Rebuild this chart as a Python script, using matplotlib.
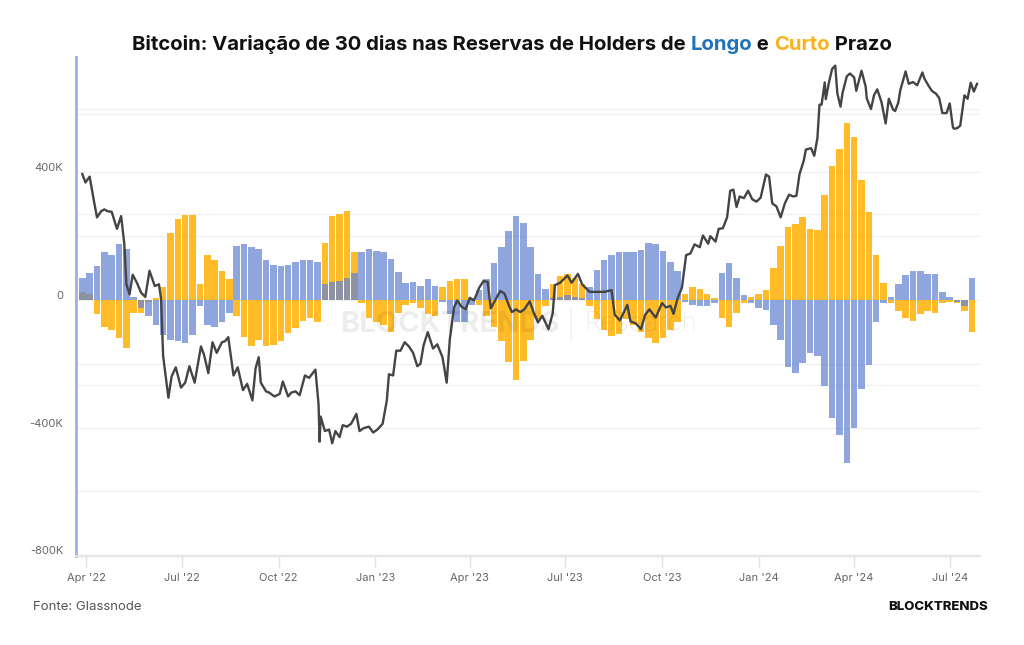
import matplotlib
matplotlib.use("Agg")
import matplotlib.pyplot as plt
import matplotlib.dates as mdates
import matplotlib.transforms as mtransforms
import numpy as np
import pandas as pd

plt.rcParams["font.family"] = ["Inter", "DejaVu Sans"]

# weekly readings (thousands of BTC), 30-day change in holder supply
weeks = pd.date_range("2022-03-28", periods=122, freq="7D")
lth_k = [
    70, 85, 105, 150, 140, 175, 160, 10, -25, -50,
    -80, -110, -125, -130, -135, -110, -20, -80, -85, -70,
    -40, 170, 175, 165, 160, 125, 110, 105, 110, 120,
    125, 125, 120, 50, 55, 60, 70, 85, 150, 160,
    155, 150, 130, 88, 54, 55, 45, 65, 45, -5,
    -45, -70, -70, -15, 30, 65, 115, 165, 215, 262,
    240, 165, 80, 35, 5, 10, 15, 10, 5, 40,
    95, 125, 140, 150, 149, 150, 158, 178, 175, 155,
    120, 92, -5, -15, -20, -18, -10, 85, 115, 70,
    15, -10, -25, -30, -80, -125, -210, -230, -197, -165,
    -176, -270, -370, -425, -510, -400, -280, -205, -70, -10,
    10, 50, 78, 90, 92, 82, 82, 25, 10, -5,
    -20, 70,
]
sth_k = [
    25, 20, -45, -85, -95, -120, -150, -40, -40, -5,
    5, 40, 210, 255, 265, 265, 50, 140, 125, 90,
    65, -50, -115, -145, -125, -145, -140, -130, -105, -88,
    -65, -58, -70, 180, 262, 270, 278, 150, -10, -55,
    -68, -80, -100, -40, -15, -10, -25, -45, -50, 40,
    60, 65, 65, 5, -15, -50, -85, -130, -195, -250,
    -190, -125, -60, -20, 50, 75, 80, 70, 50, -20,
    -60, -95, -112, -108, -60, -80, -100, -120, -134, -120,
    -95, -70, 20, 40, 35, 20, 5, -55, -85, -40,
    -10, 10, 20, 30, 100, 170, 230, 237, 260, 222,
    220, 330, 420, 475, 556, 510, 375, 275, 140, 54,
    -10, -35, -55, -65, -45, -35, -40, -10, -5, -10,
    -35, -100,
]

# BTC price (USD thousands)
price_dates = pd.to_datetime([
    "2022-03-28", "2022-03-31", "2022-04-04", "2022-04-08", "2022-04-11", "2022-04-15",
    "2022-04-18", "2022-04-21", "2022-04-25", "2022-04-30", "2022-05-04", "2022-05-07",
    "2022-05-09", "2022-05-12", "2022-05-15", "2022-05-19", "2022-05-23", "2022-05-27",
    "2022-05-31", "2022-06-05", "2022-06-09", "2022-06-11", "2022-06-13", "2022-06-18",
    "2022-06-21", "2022-06-25", "2022-06-30", "2022-07-04", "2022-07-08", "2022-07-13",
    "2022-07-19", "2022-07-22", "2022-07-26", "2022-07-30", "2022-08-03", "2022-08-08",
    "2022-08-11", "2022-08-14", "2022-08-19", "2022-08-23", "2022-08-28", "2022-09-01",
    "2022-09-06", "2022-09-09", "2022-09-12", "2022-09-14", "2022-09-19", "2022-09-22",
    "2022-09-27", "2022-10-02", "2022-10-05", "2022-10-10", "2022-10-13", "2022-10-17",
    "2022-10-21", "2022-10-26", "2022-10-30", "2022-11-05", "2022-11-08", "2022-11-09",
    "2022-11-10", "2022-11-14", "2022-11-18", "2022-11-21", "2022-11-24", "2022-11-28",
    "2022-12-01", "2022-12-05", "2022-12-09", "2022-12-14", "2022-12-17", "2022-12-21",
    "2022-12-26", "2022-12-30", "2023-01-03", "2023-01-08", "2023-01-12", "2023-01-14",
    "2023-01-18", "2023-01-21", "2023-01-25", "2023-01-29", "2023-02-02", "2023-02-06",
    "2023-02-10", "2023-02-13", "2023-02-16", "2023-02-20", "2023-02-25", "2023-03-01",
    "2023-03-06", "2023-03-10", "2023-03-13", "2023-03-17", "2023-03-20", "2023-03-24",
    "2023-03-28", "2023-04-01", "2023-04-05", "2023-04-10", "2023-04-14", "2023-04-18",
    "2023-04-21", "2023-04-26", "2023-04-30", "2023-05-04", "2023-05-08", "2023-05-11",
    "2023-05-15", "2023-05-19", "2023-05-23", "2023-05-28", "2023-06-01", "2023-06-05",
    "2023-06-09", "2023-06-15", "2023-06-19", "2023-06-21", "2023-06-26", "2023-07-03",
    "2023-07-07", "2023-07-13", "2023-07-17", "2023-07-24", "2023-07-31", "2023-08-07",
    "2023-08-14", "2023-08-17", "2023-08-22", "2023-08-29", "2023-09-01", "2023-09-06",
    "2023-09-11", "2023-09-15", "2023-09-19", "2023-09-25", "2023-10-01", "2023-10-05",
    "2023-10-09", "2023-10-12", "2023-10-16", "2023-10-20", "2023-10-24", "2023-10-28",
    "2023-11-01", "2023-11-06", "2023-11-09", "2023-11-14", "2023-11-16", "2023-11-21",
    "2023-11-24", "2023-11-28", "2023-12-02", "2023-12-05", "2023-12-08", "2023-12-11",
    "2023-12-14", "2023-12-18", "2023-12-22", "2023-12-26", "2023-12-30", "2024-01-03",
    "2024-01-08", "2024-01-11", "2024-01-14", "2024-01-18", "2024-01-22", "2024-01-26",
    "2024-01-30", "2024-02-03", "2024-02-06", "2024-02-09", "2024-02-13", "2024-02-15",
    "2024-02-20", "2024-02-23", "2024-02-26", "2024-02-28", "2024-03-01", "2024-03-04",
    "2024-03-05", "2024-03-08", "2024-03-11", "2024-03-14", "2024-03-16", "2024-03-19",
    "2024-03-21", "2024-03-25", "2024-03-28", "2024-04-01", "2024-04-03", "2024-04-08",
    "2024-04-12", "2024-04-13", "2024-04-17", "2024-04-20", "2024-04-23", "2024-04-27",
    "2024-05-01", "2024-05-04", "2024-05-08", "2024-05-10", "2024-05-13", "2024-05-15",
    "2024-05-20", "2024-05-23", "2024-05-27", "2024-05-31", "2024-06-05", "2024-06-07",
    "2024-06-11", "2024-06-14", "2024-06-18", "2024-06-21", "2024-06-24", "2024-06-28",
    "2024-07-01", "2024-07-04", "2024-07-05", "2024-07-08", "2024-07-11", "2024-07-15",
    "2024-07-18", "2024-07-21", "2024-07-24", "2024-07-27",
])
price_k = [
    47.1, 45.5, 46.6, 42.3, 39.5, 40.5,
    40.8, 40.5, 40.4, 37.7, 39.7, 35.5,
    30.1, 28.9, 31.3, 30.3, 29.1, 28.6,
    31.8, 29.9, 30.1, 28.4, 22.5, 19.0,
    20.7, 21.5, 19.8, 20.2, 21.6, 20.2,
    23.4, 22.6, 21.0, 23.8, 22.8, 23.8,
    23.9, 24.3, 20.8, 21.5, 19.6, 20.1,
    18.8, 21.4, 22.4, 20.2, 19.5, 19.4,
    19.1, 19.3, 20.3, 19.1, 19.4, 19.5,
    19.2, 20.8, 20.6, 21.3, 18.5, 15.9,
    17.6, 16.6, 16.7, 15.8, 16.6, 16.2,
    17.0, 16.9, 17.1, 17.8, 16.6, 16.8,
    16.9, 16.5, 16.7, 17.1, 18.8, 20.9,
    20.8, 23.0, 23.0, 23.8, 23.4, 22.8,
    21.6, 21.8, 23.5, 24.8, 23.2, 23.6,
    22.4, 20.2, 24.1, 27.4, 28.2, 27.5,
    27.2, 28.5, 28.2, 29.7, 30.5, 30.4,
    27.3, 28.4, 29.3, 29.0, 27.7, 26.9,
    27.2, 26.9, 27.2, 28.1, 26.8, 25.8,
    26.5, 25.1, 26.8, 30.0, 30.3, 31.2,
    30.3, 31.4, 30.1, 29.2, 29.2, 29.2,
    29.4, 26.6, 26.0, 27.7, 25.9, 25.7,
    25.1, 26.6, 27.2, 26.3, 27.9, 27.4,
    27.6, 26.7, 28.5, 29.7, 33.9, 34.1,
    35.4, 35.0, 36.7, 35.5, 36.6, 35.8,
    37.7, 37.8, 39.5, 44.0, 44.2, 41.2,
    43.0, 42.7, 44.0, 42.5, 42.1, 42.8,
    47.0, 46.6, 41.8, 41.3, 39.5, 41.8,
    43.3, 43.0, 43.1, 47.1, 49.7, 52.0,
    52.3, 50.7, 54.5, 62.4, 62.4, 68.3,
    63.8, 68.3, 72.1, 73.1, 65.3, 61.9,
    65.5, 70.0, 70.8, 69.7, 66.0, 71.6,
    67.1, 64.0, 61.3, 64.9, 66.4, 63.1,
    57.8, 63.9, 61.2, 60.8, 62.9, 66.2,
    71.4, 67.9, 68.4, 67.5, 71.1, 69.3,
    67.3, 66.0, 65.2, 64.1, 60.3, 60.3,
    62.7, 57.0, 56.6, 56.7, 57.3, 64.8,
    63.9, 68.2, 65.8, 67.9,
]

blue = "#6283d2"
orange = "#ffb81c"

fig = plt.figure(figsize=(10.24, 6.45), dpi=100)
ax = fig.add_axes([0.0742, 0.138, 0.883, 0.7736])

lth = np.array(lth_k) * 1000
sth = np.array(sth_k) * 1000
ax.bar(weeks, sth, width=6.2, color=orange, alpha=0.95, linewidth=0, zorder=2)
ax.bar(weeks, lth, width=6.2, color=blue, alpha=0.72, linewidth=0, zorder=3)

ax.set_yticks(np.arange(-800000, 800001, 200000))
ax.set_ylim(-803000, 762000)
ax.yaxis.set_major_formatter(
    lambda v, p: ("0" if v == 0 else f"{int(v / 1000)}K") if v % 400000 == 0 else ""
)
ax.grid(axis="y", color="#f0f0f0", linewidth=1.0, zorder=0)
ax.set_axisbelow(True)
ax.tick_params(axis="y", length=0, pad=9, labelsize=8, labelcolor="#666666")

ax.set_xlim(pd.Timestamp("2022-03-22"), pd.Timestamp("2024-07-30"))
ax.xaxis.set_major_locator(mdates.MonthLocator(bymonth=[1, 4, 7, 10]))
ax.xaxis.set_major_formatter(mdates.DateFormatter("%b '%y"))
ax.tick_params(axis="x", length=8, width=1, color="#e0e0e0", pad=4,
               labelsize=8, labelcolor="#666666")

for s in ["top", "right"]:
    ax.spines[s].set_visible(False)
ax.spines["left"].set_color("#9cb0e8")
ax.spines["left"].set_linewidth(2)
ax.spines["bottom"].set_color("#e6e6e6")
ax.spines["bottom"].set_linewidth(1.6)

# nudge y labels up a little, as in the original
shift = mtransforms.ScaledTranslation(0, 5 / 100, fig.dpi_scale_trans)
for lab in ax.get_yticklabels():
    lab.set_transform(lab.get_transform() + shift)

# price on hidden log axis
ax2 = ax.twinx()
ax2.set_yscale("log")
ax2.set_ylim(10000, 75700)
ax2.plot(price_dates, np.array(price_k) * 1000, color="#444444", linewidth=1.7, zorder=5)
ax2.axis("off")
grid_tr = mtransforms.blended_transform_factory(ax.transAxes, ax2.transData)
for p in [20000, 40000, 60000]:
    ax.plot([0, 1], [p, p], transform=grid_tr, color="#f0f0f0", linewidth=1.0, zorder=0)
ax.set_ylim(-803000, 762000)

# watermark
wm = fig.text(0.332, 0.497, "BLOCKTRENDS", fontsize=21, fontweight="bold",
              color="#000000", alpha=0.07, va="center", ha="left")
sep = ax.annotate("|", xy=(1, 0.5), xycoords=wm, xytext=(5, 0),
                  textcoords="offset points", fontsize=21, fontweight="light",
                  color="#000000", alpha=0.07, va="center", ha="left")
ax.annotate("Research", xy=(1, 0.5), xycoords=sep, xytext=(7, 0),
            textcoords="offset points", fontsize=19, fontweight="light",
            color="#000000", alpha=0.07, va="center", ha="left")

# multi-colour title
pieces = [
    ("Bitcoin: Variação de 30 dias nas Reservas de Holders de ", "#111111"),
    ("Longo", "#1f72b8"),
    (" e ", "#111111"),
    ("Curto", "#f7b21e"),
    (" Prazo", "#111111"),
]
texts = []
t = fig.text(0, 0.931, pieces[0][0], fontsize=14.6, fontweight="bold",
             color=pieces[0][1], va="center", ha="left")
texts.append(t)
for txt, col in pieces[1:]:
    t = ax.annotate(txt, xy=(1, 0), xycoords=texts[-1], fontsize=14.6,
                    fontweight="bold", color=col, va="bottom", ha="left")
    texts.append(t)
fig.canvas.draw()
r = fig.canvas.get_renderer()
x0 = texts[0].get_window_extent(r).x0
x1 = texts[-1].get_window_extent(r).x1
w = (x1 - x0) / fig.bbox.width
texts[0].set_x(0.5 - w / 2)

fig.text(0.032, 0.059, "Fonte: Glassnode", fontsize=9.5, color="#555555",
         va="center", ha="left")
fig.text(0.965, 0.059, "BLOCKTRENDS", fontsize=9.5, fontweight="heavy",
         color="#111111", va="center", ha="right")

fig.savefig("out.png", dpi=100)
